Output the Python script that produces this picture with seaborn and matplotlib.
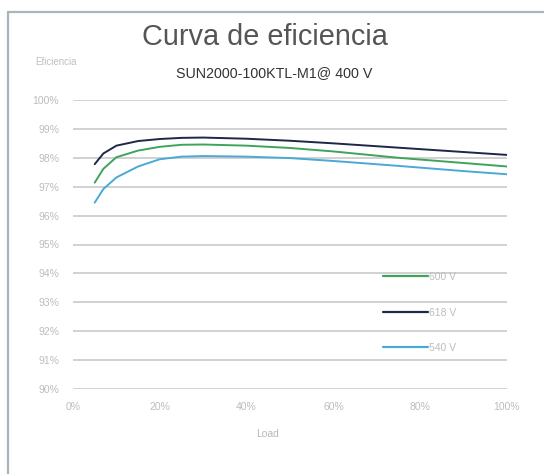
import matplotlib
matplotlib.use("Agg")
import matplotlib.pyplot as plt
import seaborn as sns
import pandas as pd
from matplotlib.lines import Line2D

# ---- data ----
load_pct = [5, 7, 10, 15, 20, 25, 30, 40, 50, 60, 75, 90, 100]
eff_600 = [97.14, 97.62, 98.02, 98.25, 98.38, 98.45, 98.46, 98.42, 98.34, 98.22, 98.00, 97.82, 97.70]
eff_618 = [97.78, 98.15, 98.42, 98.58, 98.65, 98.69, 98.70, 98.66, 98.59, 98.50, 98.35, 98.20, 98.10]
eff_540 = [96.45, 96.92, 97.32, 97.70, 97.95, 98.04, 98.06, 98.04, 97.99, 97.89, 97.72, 97.54, 97.43]
series_names = ["600 V", "618 V", "540 V"]
x_ticks = [0, 20, 40, 60, 80, 100]
x_tick_labels = ["0%", "20%", "40%", "60%", "80%", "100%"]
y_ticks = [90, 91, 92, 93, 94, 95, 96, 97, 98, 99, 100]
y_tick_labels = ["90%", "91%", "92%", "93%", "94%", "95%", "96%", "97%", "98%", "99%", "100%"]

rows = []
for name, vals in zip(series_names, [eff_600, eff_618, eff_540]):
    for x, v in zip(load_pct, vals):
        rows.append({"Load": x, "Eficiencia": v, "Serie": name})
df = pd.DataFrame(rows)

sns.set_theme(style="white")
plt.rcParams["font.family"] = ["Liberation Sans", "DejaVu Sans"]

W, H = 544, 474
fig = plt.figure(figsize=(W / 100, H / 100), dpi=100)
fig.patch.set_facecolor("white")

ax = fig.add_axes([73 / W, 1 - 389 / H, 434 / W, 289 / H])
palette = {"600 V": "#3fa45b", "618 V": "#1e2747", "540 V": "#4aa9d6"}
sns.lineplot(data=df, x="Load", y="Eficiencia", hue="Serie", hue_order=series_names,
             palette=palette, linewidth=1.4, ax=ax, legend=False, zorder=3)

ax.set_xlim(0, 100)
ax.set_ylim(90, 100)
ax.set_xticks(x_ticks)
ax.set_xticklabels(x_tick_labels)
ax.set_yticks(y_ticks)
ax.set_yticklabels(y_tick_labels)
ax.tick_params(axis="both", length=0, colors="#bdbdbd", labelsize=7.5)
ax.tick_params(axis="y", pad=10)
ax.tick_params(axis="x", pad=9)
ax.set_xlabel("")
ax.set_ylabel("")
for s in ax.spines.values():
    s.set_visible(False)
ax.yaxis.grid(True, color="#c9c9c9", linewidth=1.2)
ax.xaxis.grid(False)
ax.set_axisbelow(True)
ax.set_facecolor("none")

handles = [Line2D([0], [0], color=palette[n], lw=1.6) for n in series_names]
leg = ax.legend(handles, series_names, loc="upper left",
                bbox_to_anchor=((383 - 73) / 434, (389 - 272) / 289),
                frameon=False, fontsize=7.5, handlelength=4.3, handletextpad=0.15,
                labelspacing=2.45, borderpad=0, borderaxespad=0)
for t in leg.get_texts():
    t.set_color("#bdbdbd")

# titles and labels
fig.text(265 / W, 1 - 37 / H, "Curva de eficiencia", ha="center", va="center",
         fontsize=20.8, color="#555555")
fig.text(274 / W, 1 - 73 / H, "SUN2000-100KTL-M1@ 400 V", ha="center", va="center",
         fontsize=10.3, color="#333333")
fig.text(35 / W, 1 - 62 / H, "Eficiencia", ha="left", va="center",
         fontsize=7, color="#c0c0c0")
fig.text(268 / W, 1 - 434 / H, "Load", ha="center", va="center",
         fontsize=7.5, color="#b8b8b8")

# frame
fig.add_artist(Line2D([8 / W, 1], [1 - 12 / H, 1 - 12 / H], color="#aab5b9", lw=1.6,
                      transform=fig.transFigure))
fig.add_artist(Line2D([8 / W, 8 / W], [1 - 12 / H, 0], color="#aab5b9", lw=1.6,
                      transform=fig.transFigure))

fig.savefig("out.png", dpi=100)
